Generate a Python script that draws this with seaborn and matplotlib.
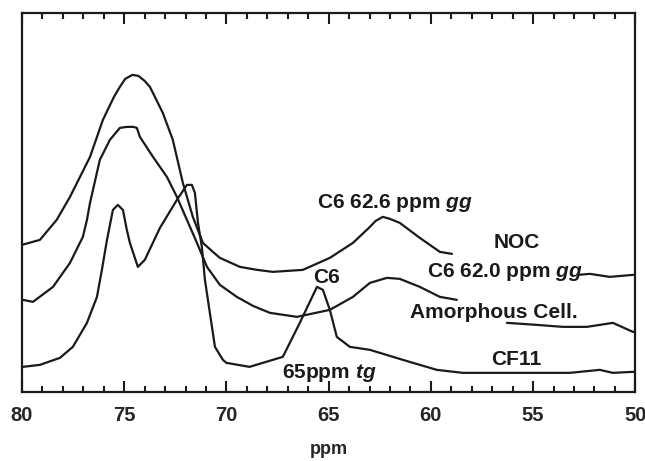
import numpy as np
import pandas as pd
import seaborn as sns
from matplotlib import pyplot as plt
from matplotlib.ticker import MultipleLocator

# spectra (ppm, intensity in arbitrary units)
noc_ppm = [80.00, 79.12, 78.30, 77.65, 76.67, 76.04, 75.50, 75.21, 74.95, 74.60, 74.30, 74.00,
           73.74, 73.11, 72.62, 72.13, 71.64, 71.15, 70.66, 70.32, 69.34, 68.50, 67.73, 66.26,
           64.94, 63.81, 63.03, 62.70, 62.35, 62.00, 61.52, 60.54, 59.56, 58.97]
noc_int = [147, 152, 172, 195, 235, 272, 295, 305, 313, 317, 316, 311,
           305, 279, 252, 209, 175, 149, 140, 134, 125, 122, 120, 122,
           134, 149, 164, 171, 175, 173, 169, 154, 140, 138]
noc_tail_ppm = [52.81, 52.22, 51.25, 50.12, 50.00]
noc_tail_int = [117, 118, 115, 117, 117]

amor_ppm = [79.95, 79.46, 78.48, 77.65, 77.02, 76.82, 76.67, 76.19, 75.70, 75.21, 74.87, 74.55,
            74.38, 74.23, 73.59, 72.91, 72.42, 71.93, 71.44, 70.95, 70.32, 69.49, 68.70, 67.87,
            66.55, 64.94, 63.81, 62.98, 62.15, 61.52, 60.54, 59.56, 58.73]
amor_int = [92, 90, 105, 129, 155, 172, 189, 232, 252, 264, 265, 265,
            264, 255, 235, 215, 195, 172, 149, 125, 107, 95, 86, 79,
            75, 82, 95, 109, 114, 113, 105, 95, 92]
amor_tail_ppm = [56.28, 54.82, 53.55, 52.37, 51.10, 50.12, 50.00]
amor_tail_int = [69, 67, 65, 65, 69, 60, 60]

cf11_ppm = [79.95, 79.12, 78.14, 77.51, 76.82, 76.33, 76.09, 75.84, 75.55, 75.31, 75.06, 74.87,
            74.72, 74.33, 73.99, 73.25, 72.42, 71.93, 71.69, 71.54, 71.39, 71.20, 71.05, 70.56,
            70.17, 70.00, 68.87, 67.24, 66.41, 65.57, 65.28, 64.94, 64.60, 63.96, 62.98, 61.37,
            59.71, 58.44, 55.79, 53.21, 51.74, 51.10, 50.12, 50.00]
cf11_int = [25, 27, 34, 45, 69, 95, 122, 152, 182, 187, 182, 162,
            149, 125, 132, 164, 192, 207, 207, 199, 169, 145, 112, 45,
            32, 29, 25, 35, 69, 105, 102, 82, 55, 45, 42, 32,
            22, 19, 19, 19, 22, 19, 20, 20]

segments = [
    (noc_ppm, noc_int), (noc_tail_ppm, noc_tail_int),
    (amor_ppm, amor_int), (amor_tail_ppm, amor_tail_int),
    (cf11_ppm, cf11_int),
]

sns.set_style("ticks")
plt.rcParams['font.family'] = ['Liberation Sans', 'DejaVu Sans']
plt.rcParams['font.weight'] = 'bold'
plt.rcParams['mathtext.fontset'] = 'custom'
plt.rcParams['mathtext.it'] = 'Liberation Sans:italic:bold'
plt.rcParams['mathtext.rm'] = 'Liberation Sans:bold'

fig = plt.figure(figsize=(6.45, 4.61), dpi=100)
ax = fig.add_axes([0.034, 0.150, 0.951, 0.822])

for x, y in segments:
    df = pd.DataFrame({"ppm": x, "intensity": y})
    sns.lineplot(data=df, x="ppm", y="intensity", sort=False, estimator=None,
                 color="#1a1a1a", linewidth=1.6, ax=ax)

ax.set_xlim(80, 50)
ax.set_ylim(0, 379)
ax.xaxis.set_major_locator(MultipleLocator(5))
ax.xaxis.set_minor_locator(MultipleLocator(1))
ax.set_yticks([])
ax.tick_params(axis='x', which='both', direction='in', top=True, bottom=True,
               width=1.5, labelsize=14.5, pad=10, color="#1a1a1a")
ax.tick_params(axis='x', which='major', length=8)
ax.tick_params(axis='x', which='minor', length=4)
for s in ax.spines.values():
    s.set_linewidth(1.6)
    s.set_color("#1a1a1a")
ax.set_xlabel("ppm", fontsize=13, fontweight='bold', labelpad=12)
ax.set_ylabel("")

lab = dict(fontsize=15, fontweight='bold', ha='center', va='baseline', color="#1a1a1a")
ax.text(61.75, 184, r"C6 62.6 ppm $\mathit{gg}$", **lab)
ax.text(55.8, 144, "NOC", **lab)
ax.text(56.4, 115, r"C6 62.0 ppm $\mathit{gg}$", **lab)
ax.text(56.9, 74, "Amorphous Cell.", **lab)
ax.text(55.8, 27, "CF11", **lab)
ax.text(65.1, 109, "C6", **lab)
ax.text(64.95, 14, r"65ppm $\mathit{tg}$", **lab)

plt.savefig("out.png", dpi=100)
